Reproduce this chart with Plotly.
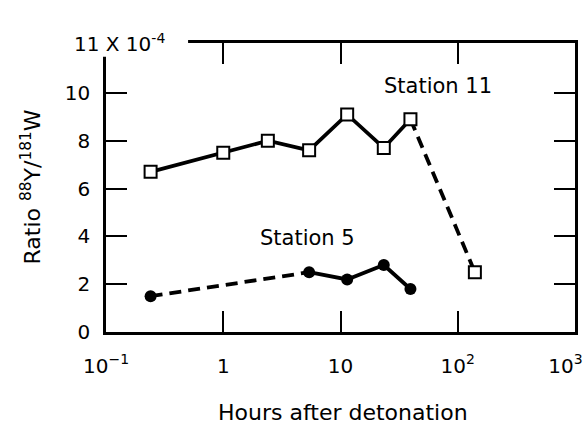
import plotly.graph_objects as go

# Station 11 (open squares) and Station 5 (filled circles), ratio in units of 1e-4
hours_11 = [0.24, 1.0, 2.4, 5.4, 11.4, 23.4, 39.5, 140]
ratio_11 = [6.7, 7.5, 8.0, 7.6, 9.1, 7.7, 8.9, 2.5]
hours_5 = [0.24, 5.4, 11.4, 23.4, 39.5]
ratio_5 = [1.5, 2.5, 2.2, 2.8, 1.8]

x_tickvals = [0.1, 1, 10, 100, 1000]
# trailing no-break spaces nudge the last label left so it fits the page
x_ticktext = ["10<sup>−1</sup>", "1", "10", "10<sup>2</sup>",
              "10<sup>3</sup>\u00a0\u00a0\u00a0"]
y_tickvals = [0, 2, 4, 6, 8, 10]

FONT = "'DejaVu Sans', sans-serif"
INK = "black"
DASH = "12px,7px"

fig = go.Figure()

# Station 11: solid through the first seven samples, dashed to the last one
fig.add_trace(go.Scatter(x=hours_11[:7], y=ratio_11[:7], mode="lines",
                         line=dict(color=INK, width=3.8), hoverinfo="skip"))
fig.add_trace(go.Scatter(x=hours_11[6:], y=ratio_11[6:], mode="lines",
                         line=dict(color=INK, width=3.8, dash=DASH), hoverinfo="skip"))
# Station 5: dashed first leg, then solid
fig.add_trace(go.Scatter(x=hours_5[:2], y=ratio_5[:2], mode="lines",
                         line=dict(color=INK, width=3.8, dash=DASH), hoverinfo="skip"))
fig.add_trace(go.Scatter(x=hours_5[1:], y=ratio_5[1:], mode="lines",
                         line=dict(color=INK, width=3.8), hoverinfo="skip"))

fig.add_trace(go.Scatter(x=hours_11, y=ratio_11, mode="markers", name="Station 11",
                         marker=dict(symbol="square", size=12, color="white",
                                     line=dict(color=INK, width=2))))
fig.add_trace(go.Scatter(x=hours_5, y=ratio_5, mode="markers", name="Station 5",
                         marker=dict(symbol="circle", size=12, color=INK)))

axis_common = dict(
    showline=True, linecolor=INK, linewidth=2.5, mirror="ticks",
    ticks="inside", ticklen=21, tickwidth=1.5, tickcolor=INK,
    showgrid=False, zeroline=False, ticklabeloverflow="allow",
    tickfont=dict(family=FONT, size=20, color=INK),
)

# range padded a hair so the 10^3 tick (log10 rounding) stays inside
fig.update_xaxes(type="log", range=[-1.0002, 3.0002], tickvals=x_tickvals,
                 ticktext=x_ticktext, ticklabelstandoff=14, automargin=False, **axis_common)
fig.update_yaxes(range=[0, 12.09], tickvals=y_tickvals, ticklabelstandoff=9,
                 automargin=False, **axis_common)

# white patch breaks the frame at the top-left corner where the scale note sits
fig.add_shape(type="rect", xref="x domain", yref="y domain",
              x0=-0.02, x1=0.175, y0=0.952, y1=1.03,
              fillcolor="white", line=dict(width=0), layer="above")

fig.add_annotation(text="11 X 10<sup>-4</sup>", xref="paper", yref="paper",
                   x=-0.073, y=1.0, xanchor="left", yanchor="middle", showarrow=False,
                   font=dict(family=FONT, size=20, color=INK))
fig.add_annotation(text="Ratio <sup>88</sup>Y/<sup>181</sup>W", textangle=-90,
                   xref="paper", yref="paper", x=-0.162, y=0.5, xanchor="center",
                   yanchor="middle", showarrow=False,
                   font=dict(family=FONT, size=22, color=INK))
fig.add_annotation(text="Hours after detonation", xref="paper", yref="paper",
                   x=0.505, y=-0.28, xanchor="center", yanchor="middle", showarrow=False,
                   font=dict(family=FONT, size=22, color=INK))
# annotation x on a log axis is given as log10(hours)
fig.add_annotation(text="Station 11", x=1.83, y=10.3, xref="x", yref="y",
                   showarrow=False, font=dict(family=FONT, size=21, color=INK))
fig.add_annotation(text="Station 5", x=0.72, y=3.95, xref="x", yref="y",
                   showarrow=False, font=dict(family=FONT, size=21, color=INK))

fig.update_layout(
    width=587, height=428,
    margin=dict(l=106, r=12, t=43, b=96),
    paper_bgcolor="white", plot_bgcolor="white",
    showlegend=False,
)

fig.write_html("out.html", config={"displayModeBar": False},
               post_script="document.body.style.margin = '0';")
